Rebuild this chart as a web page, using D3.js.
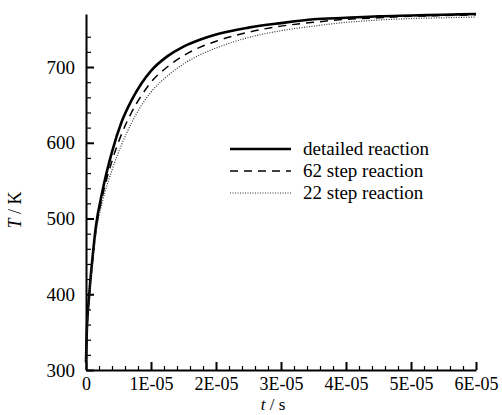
<!DOCTYPE html>
<html>
<head>
<meta charset="utf-8">
<script src="https://cdn.jsdelivr.net/npm/d3@7"></script>
<style>
  body { margin: 0; background: #fff; }
</style>
</head>
<body>
<script>
// time in units of 1E-05 s
const times = [0, 0.01, 0.05, 0.1, 0.15, 0.25, 0.4, 0.55, 0.7, 0.85, 1.0, 1.25, 1.5, 1.75, 2.0, 2.5, 3.0, 3.5, 4.0, 4.5, 5.0, 5.5, 6.0];
const detailed = [310, 345, 400, 448, 488, 535, 588, 628, 656, 678, 695, 714, 727, 736, 743, 752, 758, 763, 765, 767, 768, 769, 770];
const step62 = [310, 343, 397, 444, 483, 528, 576, 612, 640, 662, 680, 700, 715, 726, 734, 746, 754, 759, 763, 765, 767, 768, 769];
const step22 = [310, 341, 394, 440, 478, 521, 564, 598, 626, 649, 667, 688, 704, 716, 725, 739, 748, 754, 759, 762, 764, 765, 766];

const seriesNames = ['detailed reaction', '62 step reaction', '22 step reaction'];
const xTicks = [0, 1e-5, 2e-5, 3e-5, 4e-5, 5e-5, 6e-5];
const xTickLabels = ['0', '1E-05', '2E-05', '3E-05', '4E-05', '5E-05', '6E-05'];
const yTicks = [300, 400, 500, 600, 700];
const yMinor = [320, 340, 360, 380, 420, 440, 460, 480, 520, 540, 560, 580, 620, 640, 660, 680, 720, 740];

const width = 502, height = 415;
const serif = 'Liberation Serif, DejaVu Serif, serif';

const svg = d3.select('body').append('svg')
  .attr('width', width)
  .attr('height', height);

const x = d3.scaleLinear().domain([0, 6e-5]).range([86, 476]);
const y = d3.scaleLinear().domain([300, 770]).range([370, 14]);

const xMinor = d3.range(0, 31).map(i => i * 0.2e-5)
  .filter(v => !xTicks.some(t => Math.abs(t - v) < 1e-9));

// minor ticks
svg.append('g')
  .attr('transform', 'translate(0,370)')
  .call(d3.axisBottom(x).tickValues(xMinor).tickSize(-4).tickSizeOuter(0).tickFormat(''))
  .call(g => g.select('.domain').remove())
  .selectAll('line').attr('stroke-width', 1.2);

svg.append('g')
  .attr('transform', 'translate(86,0)')
  .call(d3.axisLeft(y).tickValues(yMinor).tickSize(-5).tickSizeOuter(0).tickFormat(''))
  .call(g => g.select('.domain').remove())
  .selectAll('line').attr('stroke-width', 1.2);

// major axes
const xAxis = svg.append('g')
  .attr('transform', 'translate(0,370)')
  .call(d3.axisBottom(x).tickValues(xTicks).tickSize(-8).tickSizeOuter(0)
    .tickFormat((d, i) => xTickLabels[i]));
xAxis.select('.domain').attr('stroke-width', 2);
xAxis.selectAll('line').attr('stroke-width', 2);
xAxis.selectAll('text')
  .attr('y', 20).attr('dy', 0)
  .style('font-family', serif)
  .style('font-size', '18px');

const yAxis = svg.append('g')
  .attr('transform', 'translate(86,0)')
  .call(d3.axisLeft(y).tickValues(yTicks).tickSize(-8).tickSizeOuter(0));
yAxis.select('.domain').attr('stroke-width', 2);
yAxis.selectAll('line').attr('stroke-width', 2);
yAxis.selectAll('text')
  .attr('x', -11)
  .style('font-family', serif)
  .style('font-size', '19px');

// axis titles
const yTitle = svg.append('text')
  .attr('transform', 'translate(21,210) rotate(-90)')
  .attr('text-anchor', 'middle')
  .style('font-family', serif)
  .style('font-size', '18px');
yTitle.append('tspan').style('font-style', 'italic').text('T');
yTitle.append('tspan').text(' / K');

const xTitle = svg.append('text')
  .attr('x', 273).attr('y', 410)
  .attr('text-anchor', 'middle')
  .style('font-family', serif)
  .style('font-size', '17px');
xTitle.append('tspan').style('font-style', 'italic').text('t');
xTitle.append('tspan').text(' / s');

// curves
const styles = [
  { w: 2.6, dash: null, color: '#000' },
  { w: 1.5, dash: '8,6', color: '#000' },
  { w: 1.2, dash: '1,1.5', color: '#333' }
];
const series = [detailed, step62, step22];

const line = d3.line()
  .x(d => x(d[0] * 1e-5))
  .y(d => y(d[1]))
  .curve(d3.curveMonotoneX);

series.forEach((vals, i) => {
  svg.append('path')
    .datum(times.map((t, j) => [t, vals[j]]))
    .attr('fill', 'none')
    .attr('stroke', styles[i].color)
    .attr('stroke-width', styles[i].w)
    .attr('stroke-dasharray', styles[i].dash)
    .attr('d', line);
});

// legend
const legend = svg.append('g');
seriesNames.forEach((name, i) => {
  const ly = 149 + i * 22;
  legend.append('line')
    .attr('x1', 230).attr('x2', 291)
    .attr('y1', ly).attr('y2', ly)
    .attr('stroke', styles[i].color)
    .attr('stroke-width', styles[i].w)
    .attr('stroke-dasharray', styles[i].dash);
  legend.append('text')
    .attr('x', 303).attr('y', ly + 6)
    .style('font-family', serif)
    .style('font-size', '19px')
    .text(name);
});
</script>
</body>
</html>
